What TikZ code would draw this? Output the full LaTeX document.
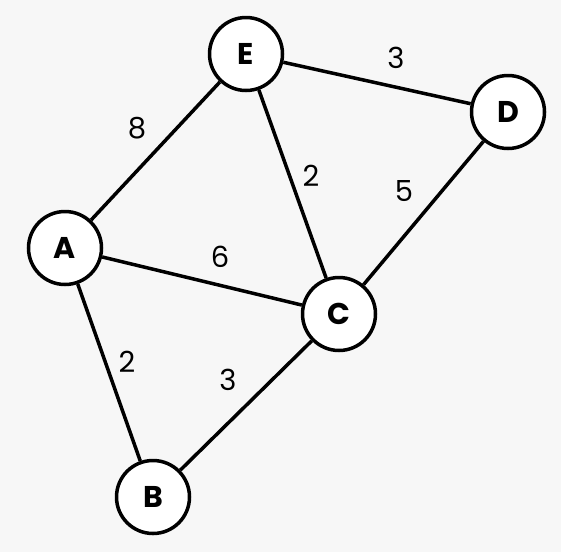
\documentclass[tikz,border=0pt]{standalone}
\usepackage{fontspec}
\setmainfont{Poppins}
\definecolor{bggray}{HTML}{F7F7F7}
\tikzset{
  vertex/.style={circle,draw=black,fill=white,line width=3.5pt,minimum size=73pt,inner sep=0pt,font=\fontsize{30}{30}\selectfont\bfseries},
  wedge/.style={line width=3.5pt},
  wlabel/.style={font=\fontsize{29}{29}\selectfont}
}
\begin{document}
\begin{tikzpicture}[x=1pt,y=-1pt]
\fill[bggray] (0,0) rectangle (561,552);
\useasboundingbox (0,0) rectangle (561,552);

\node[vertex] (E) at (246,54) {E};
\node[vertex] (D) at (508,112) {D};
\node[vertex] (A) at (65,248) {A};
\node[vertex] (C) at (339,314) {C};
\node[vertex] (B) at (153,497) {B};

\draw[wedge] (A) -- (E);
\draw[wedge] (E) -- (D);
\draw[wedge] (E) -- (C);
\draw[wedge] (D) -- (C);
\draw[wedge] (A) -- (C);
\draw[wedge] (A) -- (B);
\draw[wedge] (B) -- (C);

\node[wlabel] (lAE) at (137,128) {8};
\node[wlabel] (lED) at (396,58) {3};
\node[wlabel] (lEC) at (311,176) {2};
\node[wlabel] (lDC) at (404,191) {5};
\node[wlabel] (lAC) at (220,257) {6};
\node[wlabel] (lAB) at (127,362) {2};
\node[wlabel] (lBC) at (228,380) {3};
\end{tikzpicture}
\end{document}
